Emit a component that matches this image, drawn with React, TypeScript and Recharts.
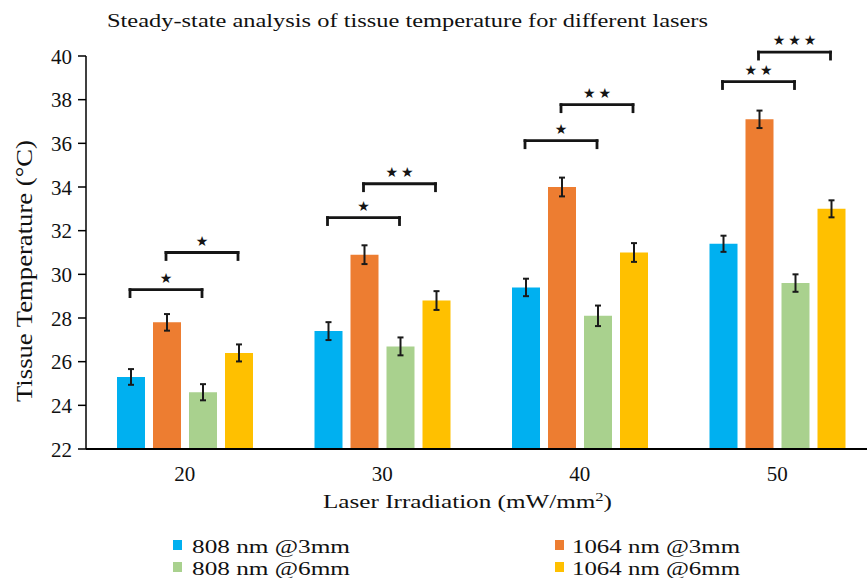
import React from 'react';
import { BarChart, Bar, XAxis, YAxis, ErrorBar, ReferenceLine, ReferenceDot } from 'recharts';

// ---------- data ----------
const categories = ['20', '30', '40', '50'];
const seriesNames = ['808 nm @3mm', '1064 nm @3mm', '808 nm @6mm', '1064 nm @6mm'];
const seriesColors = ['#00B0F0', '#ED7D31', '#A9D18E', '#FFC000'];

const s808at3 = [25.3, 27.4, 29.4, 31.4];
const s1064at3 = [27.8, 30.9, 34.0, 37.1];
const s808at6 = [24.6, 26.7, 28.1, 29.6];
const s1064at6 = [26.4, 28.8, 31.0, 33.0];

const err808at3 = [0.36, 0.41, 0.4, 0.37];
const err1064at3 = [0.38, 0.43, 0.43, 0.4];
const err808at6 = [0.37, 0.41, 0.47, 0.4];
const err1064at6 = [0.39, 0.43, 0.43, 0.39];

const yTicks = [22, 24, 26, 28, 30, 32, 34, 36, 38, 40];

// significance brackets: category index, from-series, to-series, level, number of stars
const bracketCategory = [0, 0, 1, 1, 2, 2, 3, 3];
const bracketFrom = [0, 1, 0, 1, 0, 1, 0, 1];
const bracketTo = [2, 3, 2, 3, 2, 3, 2, 3];
const bracketLevel = [29.3, 31.0, 32.6, 34.15, 36.12, 37.77, 38.83, 40.18];
const bracketStars = [1, 1, 1, 2, 1, 2, 2, 3];

// ---------- layout ----------
const CHART_W = 880;
const CHART_H = 578;
const MARGIN = { top: 56, right: 4, bottom: 99, left: 40 };
const YAXIS_W = 46;
const XAXIS_H = 30;
const BAR_SIZE = 28;
const BAR_GAP = 8;
const FONT = '"Liberation Serif", Tinos, "Times New Roman", "DejaVu Serif", serif';

const seriesValues = [s808at3, s1064at3, s808at6, s1064at6];
const seriesErrors = [err808at3, err1064at3, err808at6, err1064at6];

const data = categories.map((c, i) => {
  const row: any = { cat: c, pos: i + 0.5 };
  seriesValues.forEach((arr, j) => {
    row['v' + j] = arr[i];
    row['e' + j] = seriesErrors[j][i];
  });
  return row;
});

// bar centre in "band units" for the hidden numeric axis (domain 0..n)
const plotW = CHART_W - MARGIN.left - MARGIN.right - YAXIS_W;
const bandPx = plotW / categories.length;
const groupPx = seriesNames.length * BAR_SIZE + (seriesNames.length - 1) * BAR_GAP;
const groupOffset = Math.floor((bandPx - groupPx) / 2);
const barCentre = (cat: number, s: number) =>
  cat + (groupOffset + BAR_SIZE / 2 + s * (BAR_SIZE + BAR_GAP)) / bandPx;

const LEG = 0.32;
const INK = '#151515';

const YTick = (props: any) => {
  const { x, y, payload } = props;
  return (
    <text x={x} y={y} dy="0.36em" textAnchor="end" style={{ fontFamily: FONT }} fontSize={21} fill="#111">
      {payload.value}
    </text>
  );
};

const XTick = (props: any) => {
  const { x, y, payload } = props;
  return (
    <text x={x} y={y + 32} textAnchor="middle" style={{ fontFamily: FONT }} fontSize={21} fill="#111">
      {payload.value}
    </text>
  );
};

const starShape = (n: number) => (p: any) => {
  const { cx, cy } = p;
  const items = [];
  for (let k = 0; k < n; k++) {
    items.push(
      <text
        key={k}
        x={cx + (k - (n - 1) / 2) * 15.5}
        y={cy - 7}
        textAnchor="middle"
        style={{ fontFamily: 'DejaVu Sans, sans-serif' }}
        fontSize={14}
        fill={INK}
      >
        ★
      </text>
    );
  }
  return <g>{items}</g>;
};

const legendCols = [173, 555];
const legendTextX = [192, 572];
const legendTextLen = [158, 168];
const legendRowsY = [553, 575];

export default function App() {
  const brackets: any[] = [];
  bracketCategory.forEach((cat, b) => {
    const x1 = barCentre(cat, bracketFrom[b]);
    const x2 = barCentre(cat, bracketTo[b]);
    const yv = bracketLevel[b];
    const common = {
      xAxisId: 'n',
      stroke: INK,
      strokeWidth: 2.8,
      strokeLinecap: 'square' as const,
      ifOverflow: 'visible' as const,
    };
    brackets.push(
      <ReferenceLine key={'h' + b} {...common} segment={[{ x: x1, y: yv }, { x: x2, y: yv }]} />,
      <ReferenceLine key={'l' + b} {...common} segment={[{ x: x1, y: yv }, { x: x1, y: yv - LEG }]} />,
      <ReferenceLine key={'r' + b} {...common} segment={[{ x: x2, y: yv }, { x: x2, y: yv - LEG }]} />,
      <ReferenceDot
        key={'s' + b}
        xAxisId="n"
        x={(x1 + x2) / 2}
        y={yv}
        r={0}
        ifOverflow="visible"
        shape={starShape(bracketStars[b])}
      />
    );
  });

  return (
    <div style={{ position: 'absolute', left: 0, top: 0, width: 867, height: 578, overflow: 'hidden', background: '#fff' }}>
      <BarChart
        width={CHART_W}
        height={CHART_H}
        data={data}
        margin={MARGIN}
        barSize={BAR_SIZE}
        barGap={BAR_GAP}
      >
        <XAxis
          dataKey="cat"
          height={XAXIS_H}
          tickLine={false}
          tickSize={0}
          tickMargin={0}
          axisLine={{ stroke: '#000', strokeWidth: 2 }}
          tick={<XTick />}
          interval={0}
        />
        <XAxis
          xAxisId="n"
          dataKey="pos"
          type="number"
          domain={[0, categories.length]}
          hide
          allowDataOverflow
        />
        <YAxis
          domain={[22, 40]}
          ticks={yTicks}
          width={YAXIS_W}
          tickSize={8}
          tickMargin={6}
          interval={0}
          allowDataOverflow
          axisLine={{ stroke: '#000', strokeWidth: 1.5 }}
          tickLine={{ stroke: '#000', strokeWidth: 1.5 }}
          tick={<YTick />}
        />
        {seriesNames.map((name, j) => (
          <Bar key={name} dataKey={'v' + j} name={name} fill={seriesColors[j]} isAnimationActive={false}>
            <ErrorBar dataKey={'e' + j} width={3} strokeWidth={2} stroke="#1a1a1a" direction="y" isAnimationActive={false} />
          </Bar>
        ))}
        {brackets}
      </BarChart>
      <svg
        width={867}
        height={578}
        style={{ position: 'absolute', left: 0, top: 0, pointerEvents: 'none', fontFamily: FONT }}
      >
        <text
          x={407.5}
          y={27}
          textAnchor="middle"
          fontSize={18.5}
          fill="#111"
          textLength={601}
          lengthAdjust="spacingAndGlyphs"
        >
          Steady-state analysis of tissue temperature for different lasers
        </text>
        <text
          transform="translate(32,271) rotate(-90)"
          x={0}
          y={0}
          textAnchor="middle"
          fontSize={23}
          fill="#111"
          textLength={262}
          lengthAdjust="spacingAndGlyphs"
        >
          Tissue Temperature (°C)
        </text>
        <text
          x={467.5}
          y={508}
          textAnchor="middle"
          fontSize={19}
          fill="#111"
          textLength={289}
          lengthAdjust="spacingAndGlyphs"
        >
          Laser Irradiation (mW/mm<tspan dy={-7} fontSize={12.5}>2</tspan>
          <tspan dy={7}>)</tspan>
        </text>
        {seriesNames.map((name, j) => {
          const col = j % 2;
          const row = Math.floor(j / 2);
          return (
            <g key={name}>
              <rect x={legendCols[col]} y={legendRowsY[row] - 13} width={9} height={10} fill={seriesColors[j]} />
              <text
                x={legendTextX[col]}
                y={legendRowsY[row]}
                fontSize={18.5}
                fill="#111"
                textLength={legendTextLen[col]}
                lengthAdjust="spacingAndGlyphs"
              >
                {name}
              </text>
            </g>
          );
        })}
      </svg>
    </div>
  );
}
